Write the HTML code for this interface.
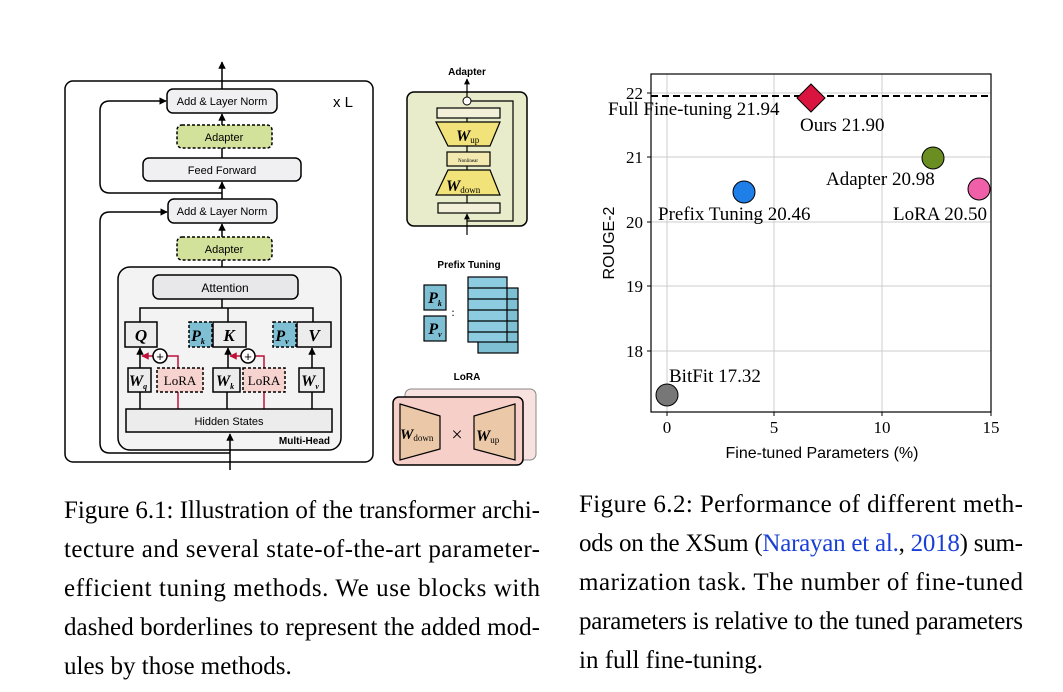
<!DOCTYPE html>
<html><head><meta charset="utf-8"><style>
html,body{margin:0;padding:0;background:#fff;width:1063px;height:692px;overflow:hidden}
svg{display:block}
.s{font-family:"Liberation Sans",sans-serif}
.r{font-family:"Liberation Serif",serif}
</style></head><body>
<svg width="1063" height="692" viewBox="0 0 1063 692" xmlns="http://www.w3.org/2000/svg">
<defs>
<marker id="a" viewBox="0 0 10 10" refX="9" refY="5" markerWidth="5" markerHeight="5" orient="auto"><path d="M0,0L10,5L0,10z" fill="#000"/></marker>
<marker id="ar" viewBox="0 0 10 10" refX="9" refY="5" markerWidth="5" markerHeight="5" orient="auto"><path d="M0,0L10,5L0,10z" fill="#c0103a"/></marker>
</defs>
<g stroke="#000" stroke-width="1.5" fill="none">
<rect x="65" y="81" width="308" height="381" rx="8"/>
<line x1="222" y1="89" x2="222" y2="62" marker-end="url(#a)"/>
<path d="M222,193 H110 Q100,193 100,183 V111 Q100,101 110,101 H166" marker-end="url(#a)"/>
<path d="M230,453 H110 Q100,453 100,443 V222 Q100,212 110,212 H167" marker-end="url(#a)"/>
<line x1="222" y1="125" x2="222" y2="114" marker-end="url(#a)"/>
<line x1="222" y1="158" x2="222" y2="148"/>
<line x1="222" y1="199" x2="222" y2="182" marker-end="url(#a)"/>
<line x1="222" y1="237" x2="222" y2="224" marker-end="url(#a)"/>
<line x1="222" y1="275" x2="222" y2="260"/>
</g>
<rect x="167" y="89" width="110" height="24" rx="6" fill="#f0f0f2" stroke="#000" stroke-width="1.5"/>
<text x="222" y="105" class="s" font-size="11" text-anchor="middle">Add &amp; Layer Norm</text>
<text x="333" y="107" class="s" font-size="15">x L</text>
<rect x="177" y="125" width="95" height="23" rx="5" fill="#d3e29a" stroke="#000" stroke-width="1.5" stroke-dasharray="3,2"/>
<text x="224" y="141" class="s" font-size="11" text-anchor="middle">Adapter</text>
<rect x="143" y="158" width="158" height="23" rx="6" fill="#f0f0f2" stroke="#000" stroke-width="1.5"/>
<text x="222" y="174" class="s" font-size="11" text-anchor="middle">Feed Forward</text>
<rect x="168" y="199" width="109" height="24" rx="6" fill="#f0f0f2" stroke="#000" stroke-width="1.5"/>
<text x="222" y="215" class="s" font-size="11" text-anchor="middle">Add &amp; Layer Norm</text>
<rect x="177" y="237" width="95" height="23" rx="5" fill="#d3e29a" stroke="#000" stroke-width="1.5" stroke-dasharray="3,2"/>
<text x="224" y="253" class="s" font-size="11" text-anchor="middle">Adapter</text>
<rect x="118" y="267" width="223" height="183" rx="12" fill="#f3f3f3" stroke="#000" stroke-width="1.5"/>
<text x="330" y="444" class="s" font-size="10" font-weight="bold" text-anchor="end">Multi-Head</text>
<rect x="153" y="275" width="145" height="24" rx="6" fill="#e8e8ea" stroke="#000" stroke-width="1.5"/>
<text x="225" y="292" class="s" font-size="12" text-anchor="middle">Attention</text>
<g stroke="#000" stroke-width="1.5" fill="none">
<line x1="222" y1="299" x2="222" y2="308"/>
<path d="M140,322 V308 H313 V322"/><line x1="228" y1="308" x2="228" y2="322"/>
<line x1="140" y1="368" x2="140" y2="348" marker-end="url(#a)"/>
<line x1="228" y1="368" x2="228" y2="348" marker-end="url(#a)"/>
<line x1="312" y1="368" x2="312" y2="348" marker-end="url(#a)"/>
<line x1="140" y1="409" x2="140" y2="392"/><line x1="227" y1="409" x2="227" y2="392"/><line x1="312" y1="409" x2="312" y2="392"/>
<line x1="230" y1="470" x2="230" y2="434" marker-end="url(#a)"/>
</g>
<g stroke="#c0103a" stroke-width="1.5" fill="none">
<line x1="178" y1="409" x2="178" y2="392"/><line x1="264" y1="409" x2="264" y2="392"/>
<path d="M178,368 V356 H167"/><path d="M264,368 V356 H255"/>
<line x1="153" y1="356" x2="142" y2="356" marker-end="url(#ar)"/>
<line x1="241" y1="356" x2="230" y2="356" marker-end="url(#ar)"/>
</g>
<circle cx="160" cy="356" r="7" fill="#fff" stroke="#000" stroke-width="1.5"/><text x="160" y="361" class="s" font-size="13" text-anchor="middle">+</text>
<circle cx="248" cy="356" r="7" fill="#fff" stroke="#000" stroke-width="1.5"/><text x="248" y="361" class="s" font-size="13" text-anchor="middle">+</text>
<g stroke="#000" stroke-width="1.5">
<rect x="125" y="322" width="32" height="25" fill="#ececec"/>
<rect x="189" y="322" width="23" height="25" fill="#7fbfd4" stroke-dasharray="3,2"/>
<rect x="213" y="322" width="33" height="25" fill="#ececec"/>
<rect x="273" y="322" width="23" height="25" fill="#7fbfd4" stroke-dasharray="3,2"/>
<rect x="297" y="322" width="34" height="25" fill="#ececec"/>
<rect x="128" y="368" width="23" height="24" fill="#ececec"/>
<rect x="157" y="368" width="46" height="24" fill="#f7d3d0" stroke-dasharray="3,2"/>
<rect x="213" y="368" width="27" height="24" fill="#ececec"/>
<rect x="243" y="368" width="42" height="24" fill="#f7d3d0" stroke-dasharray="3,2"/>
<rect x="299" y="368" width="25" height="24" fill="#ececec"/>
<rect x="126" y="409" width="206" height="23" fill="#ececec"/>
</g>
<g class="r" font-style="italic" font-weight="bold">
<text x="141" y="341" font-size="17" text-anchor="middle">Q</text>
<text x="198" y="341" font-size="16" text-anchor="middle">P<tspan font-size="8" dy="3">k</tspan></text>
<text x="229" y="341" font-size="17" text-anchor="middle">K</text>
<text x="282" y="341" font-size="16" text-anchor="middle">P<tspan font-size="8" dy="3">v</tspan></text>
<text x="314" y="341" font-size="17" text-anchor="middle">V</text>
<text x="138" y="386" font-size="16" text-anchor="middle">W<tspan font-size="8" dy="3">q</tspan></text>
<text x="225" y="386" font-size="16" text-anchor="middle">W<tspan font-size="8" dy="3">k</tspan></text>
<text x="310" y="386" font-size="16" text-anchor="middle">W<tspan font-size="8" dy="3">v</tspan></text>
</g>
<text x="180" y="385" class="r" font-size="13" text-anchor="middle">LoRA</text>
<text x="264" y="385" class="r" font-size="13" text-anchor="middle">LoRA</text>
<text x="229" y="425" class="s" font-size="11" text-anchor="middle">Hidden States</text>

<text x="467" y="75" class="s" font-size="10" font-weight="bold" text-anchor="middle">Adapter</text>
<rect x="407" y="92" width="120" height="134" rx="7" fill="#e8ecca" stroke="#000" stroke-width="1.5"/>
<g stroke="#000" stroke-width="1.2" fill="none">
<line x1="467" y1="97" x2="467" y2="79" marker-end="url(#a)"/>
<path d="M471,101 H513 V221 H467"/>
<line x1="467" y1="235" x2="467" y2="214" marker-end="url(#a)"/>
<line x1="467" y1="118" x2="467" y2="203"/>
</g>
<circle cx="467" cy="101" r="4" fill="#fff" stroke="#000"/>
<g stroke="#000" stroke-width="1.2">
<rect x="437" y="108" width="63" height="10" fill="#f2f0d8"/>
<path d="M436,122 H500 L490,146 H448 Z" fill="#f2e27a"/>
<rect x="447" y="152" width="43" height="14" fill="#f2e8b0"/>
<path d="M448,170 H490 L500,195 H436 Z" fill="#f2e27a"/>
<rect x="438" y="203" width="62" height="10" fill="#f2f0d8"/>
</g>
<text x="456" y="141" class="r" font-size="16" font-style="italic" font-weight="bold">W<tspan font-size="9" font-style="normal" font-weight="normal" dy="2">up</tspan></text>
<text x="468" y="162" class="r" font-size="5" text-anchor="middle">Nonlinear</text>
<text x="446" y="191" class="r" font-size="16" font-style="italic" font-weight="bold">W<tspan font-size="9" font-style="normal" font-weight="normal" dy="2">down</tspan></text>

<text x="469" y="268" class="s" font-size="10" font-weight="bold" text-anchor="middle">Prefix Tuning</text>
<g stroke="#000" stroke-width="1.2">
<rect x="424" y="285" width="22" height="25" fill="#7fbfd4"/>
<rect x="424" y="316" width="22" height="25" fill="#7fbfd4"/>
<rect x="478" y="288" width="40" height="65" fill="#7fbfd4"/>
<line x1="507" y1="299" x2="518" y2="299"/><line x1="507" y1="310" x2="518" y2="310"/><line x1="507" y1="321" x2="518" y2="321"/><line x1="507" y1="332" x2="518" y2="332"/><line x1="507" y1="342" x2="518" y2="342"/>
<rect x="468" y="277" width="39" height="65" fill="#8ccbe0"/>
<line x1="468" y1="288" x2="507" y2="288"/><line x1="468" y1="299" x2="507" y2="299"/><line x1="468" y1="310" x2="507" y2="310"/><line x1="468" y1="321" x2="507" y2="321"/><line x1="468" y1="332" x2="507" y2="332"/>
</g>
<text x="435" y="303" class="r" font-size="16" font-style="italic" font-weight="bold" text-anchor="middle">P<tspan font-size="8" dy="3">k</tspan></text>
<text x="435" y="334" class="r" font-size="16" font-style="italic" font-weight="bold" text-anchor="middle">P<tspan font-size="8" dy="3">v</tspan></text>
<text x="453" y="316" class="r" font-size="12" text-anchor="middle">:</text>

<text x="467" y="380" class="s" font-size="10" font-weight="bold" text-anchor="middle">LoRA</text>
<rect x="405" y="389" width="131" height="71" rx="6" fill="#f7e2e0" stroke="#888" stroke-width="1"/>
<rect x="393" y="397" width="130" height="68" rx="6" fill="#f6cfc8" stroke="#000" stroke-width="1.5"/>
<g stroke="#000" stroke-width="1.2" fill="#ebc9a8">
<path d="M400,404 L440,416 V449 L400,460 Z"/>
<path d="M515,404 L474,416 V449 L515,460 Z"/>
</g>
<text x="400" y="439" class="r" font-size="15" font-style="italic" font-weight="bold">W<tspan font-size="9" font-style="normal" font-weight="normal" dy="2">down</tspan></text>
<text x="457" y="441" class="r" font-size="20" text-anchor="middle">×</text>
<text x="476" y="441" class="r" font-size="16" font-style="italic" font-weight="bold">W<tspan font-size="9" font-style="normal" font-weight="normal" dy="2">up</tspan></text>

<!-- chart -->
<g stroke="#ccc" stroke-width="1">
<line x1="667" y1="74" x2="667" y2="412"/><line x1="774" y1="74" x2="774" y2="412"/><line x1="882" y1="74" x2="882" y2="412"/>
<line x1="651" y1="93" x2="991" y2="93"/><line x1="651" y1="157" x2="991" y2="157"/><line x1="651" y1="222" x2="991" y2="222"/><line x1="651" y1="286" x2="991" y2="286"/><line x1="651" y1="351" x2="991" y2="351"/>
</g>
<rect x="651" y="74" width="340" height="338" fill="none" stroke="#000" stroke-width="1.2"/>
<line x1="651" y1="96" x2="991" y2="96" stroke="#000" stroke-width="2" stroke-dasharray="7,4"/>
<g stroke="#000" stroke-width="1">
<line x1="651" y1="93" x2="647" y2="93"/><line x1="651" y1="157" x2="647" y2="157"/><line x1="651" y1="222" x2="647" y2="222"/><line x1="651" y1="286" x2="647" y2="286"/><line x1="651" y1="351" x2="647" y2="351"/>
<line x1="667" y1="412" x2="667" y2="416"/><line x1="774" y1="412" x2="774" y2="416"/><line x1="882" y1="412" x2="882" y2="416"/><line x1="991" y1="412" x2="991" y2="416"/>
</g>
<g class="r" font-size="17" text-anchor="end">
<text x="643" y="99">22</text><text x="643" y="163">21</text><text x="643" y="228">20</text><text x="643" y="292">19</text><text x="643" y="357">18</text>
</g>
<g class="r" font-size="17" text-anchor="middle">
<text x="667" y="433">0</text><text x="774" y="433">5</text><text x="882" y="433">10</text><text x="991" y="433">15</text>
</g>
<text x="822" y="458" class="s" font-size="16" text-anchor="middle">Fine-tuned Parameters (%)</text>
<text transform="translate(614,243) rotate(-90)" class="s" font-size="16" text-anchor="middle">ROUGE-2</text>
<path d="M811,84 L825,98 L811,112 L797,98 Z" fill="#d8143f" stroke="#000"/>
<circle cx="933" cy="158" r="11" fill="#6b8e23" stroke="#000"/>
<circle cx="744" cy="192" r="11" fill="#1f7fe8" stroke="#000"/>
<circle cx="979" cy="189" r="11" fill="#f060a8" stroke="#000"/>
<circle cx="667" cy="395" r="11" fill="#777" stroke="#000"/>
<g class="r" font-size="19">
<text x="608" y="115">Full Fine-tuning 21.94</text>
<text x="800" y="131">Ours 21.90</text>
<text x="826" y="185">Adapter 20.98</text>
<text x="658" y="220">Prefix Tuning 20.46</text>
<text x="893" y="220">LoRA 20.50</text>
<text x="669" y="382">BitFit 17.32</text>
</g>

<g class="r" font-size="25">
<text x="64" y="518" textLength="476" lengthAdjust="spacing">Figure 6.1: Illustration of the transformer archi-</text>
<text x="64" y="557" textLength="476" lengthAdjust="spacing">tecture and several state-of-the-art parameter-</text>
<text x="64" y="596" textLength="476" lengthAdjust="spacing">efficient tuning methods. We use blocks with</text>
<text x="64" y="635" textLength="476" lengthAdjust="spacing">dashed borderlines to represent the added mod-</text>
<text x="64" y="674">ules by those methods.</text>
<text x="579" y="512" textLength="444" lengthAdjust="spacing">Figure 6.2: Performance of different meth-</text>
<text x="579" y="551" textLength="444" lengthAdjust="spacing">ods on the XSum (<tspan fill="#1a3fd6">Narayan et al.</tspan>, <tspan fill="#1a3fd6">2018</tspan>) sum-</text>
<text x="579" y="590" textLength="444" lengthAdjust="spacing">marization task. The number of fine-tuned</text>
<text x="579" y="629" textLength="444" lengthAdjust="spacing">parameters is relative to the tuned parameters</text>
<text x="579" y="668">in full fine-tuning.</text>
</g>
</svg>
</body></html>
